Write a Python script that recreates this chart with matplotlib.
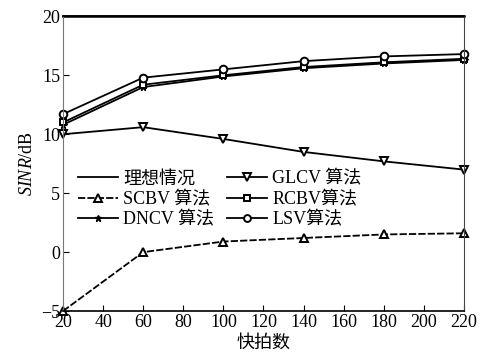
import matplotlib
matplotlib.use("Agg")
import matplotlib.pyplot as plt
from matplotlib.ticker import MultipleLocator

plt.rcParams['font.family'] = ['Liberation Serif', 'Noto Sans CJK SC']
plt.rcParams['mathtext.fontset'] = 'custom'
plt.rcParams['mathtext.it'] = 'Liberation Serif:italic'
plt.rcParams['mathtext.rm'] = 'Liberation Serif'

snapshots = [20, 60, 100, 140, 180, 220]
ideal = [20, 20, 20, 20, 20, 20]
glcv = [10.0, 10.6, 9.6, 8.5, 7.7, 7.0]
scbv = [-5.0, 0.0, 0.9, 1.2, 1.5, 1.6]
rcbv = [11.0, 14.2, 15.0, 15.7, 16.1, 16.4]
dncv = [10.8, 14.0, 14.9, 15.6, 16.0, 16.3]
lsv = [11.7, 14.8, 15.5, 16.2, 16.6, 16.8]

fig, ax = plt.subplots(figsize=(4.92, 3.63), dpi=100)
fig.subplots_adjust(left=0.128, right=0.943, top=0.955, bottom=0.143)

lw = 1.3
ms = 5.5
ax.plot(snapshots, ideal, color='black', lw=1.8, label='理想情况', clip_on=False)
ax.plot(snapshots, scbv, color='black', lw=lw, ls=(0, (4, 1.2)), marker='^', ms=ms + 0.5,
        mfc='white', mec='black', mew=1.4, label='SCBV 算法', clip_on=False)
ax.plot(snapshots, dncv, color='black', lw=lw, marker='*', ms=ms,
        mfc='black', mec='black', label='DNCV 算法', clip_on=False)
ax.plot(snapshots, glcv, color='black', lw=lw, marker='v', ms=ms + 0.5,
        mfc='white', mec='black', mew=1.4, label='GLCV 算法', clip_on=False)
ax.plot(snapshots, rcbv, color='black', lw=lw, marker='s', ms=ms - 0.5,
        mfc='white', mec='black', mew=1.4, label='RCBV算法', clip_on=False)
ax.plot(snapshots, lsv, color='black', lw=lw, marker='o', ms=ms,
        mfc='white', mec='black', mew=1.4, label='LSV算法', clip_on=False)

ax.set_xlim(20, 220)
ax.set_ylim(-5, 20)
ax.xaxis.set_major_locator(MultipleLocator(20))
ax.yaxis.set_major_locator(MultipleLocator(5))
ax.tick_params(direction='in', length=4, width=0.8, labelsize=13, pad=2,
               top=False, right=False)
ax.spines['left'].set_color('#777777')
ax.spines['right'].set_color('#444444')
ax.spines['bottom'].set_linewidth(1.2)
ax.spines['top'].set_linewidth(1.2)

ax.set_xlabel('快拍数', fontsize=13, labelpad=3)
ax.set_ylabel(r'$SINR$/dB', fontsize=13, labelpad=4)

leg = ax.legend(ncol=2, loc='lower left', bbox_to_anchor=(0.02, 0.255), frameon=False,
                fontsize=13, handlelength=2.2, handletextpad=0.3, columnspacing=0.7,
                labelspacing=0.2, borderaxespad=0.0, markerscale=0.9)
leg.get_lines()[0].set_linewidth(lw)

fig.savefig('out.png', dpi=100)
